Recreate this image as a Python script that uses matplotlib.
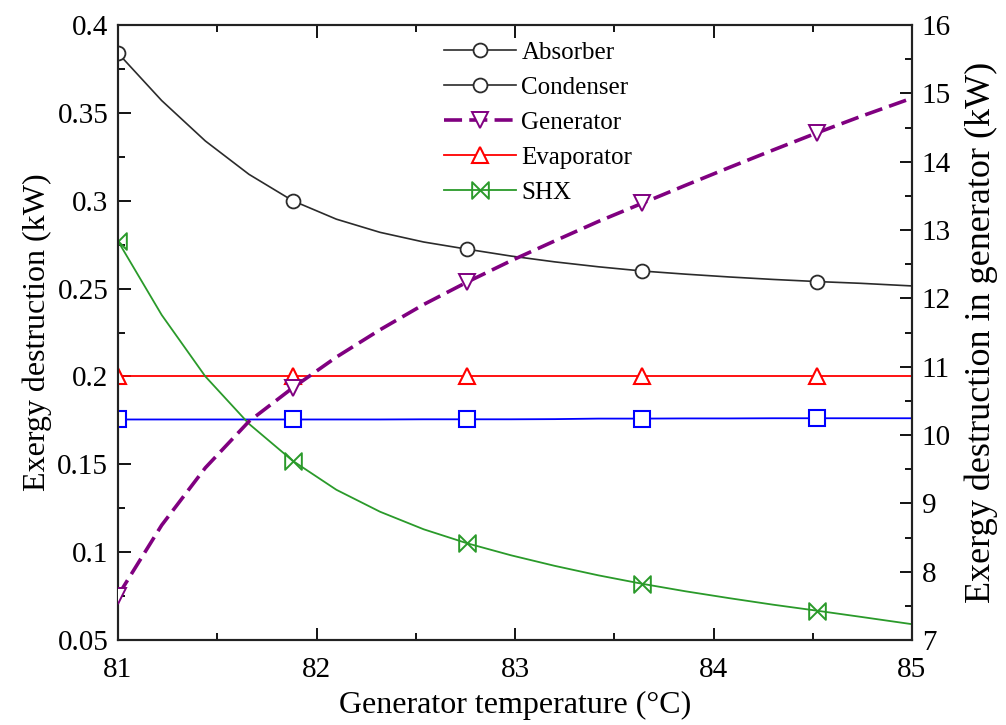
import numpy as np
import matplotlib
matplotlib.use("Agg")
import matplotlib.pyplot as plt
from matplotlib.path import Path
from matplotlib.ticker import MultipleLocator

plt.rcParams["font.family"] = ["Liberation Serif", "DejaVu Serif"]

# generator temperature (°C)
t_gen = [81.0, 81.22, 81.44, 81.66, 81.88, 82.10, 82.32, 82.54, 82.76, 82.98,
         83.20, 83.42, 83.64, 83.86, 84.08, 84.30, 84.52, 84.74, 85.0]

# exergy destruction (kW), left axis
condenser = [0.384, 0.357, 0.334, 0.315, 0.300, 0.2895, 0.282, 0.2765, 0.2724, 0.2685,
             0.2652, 0.2624, 0.2600, 0.2582, 0.2566, 0.2552, 0.2540, 0.2530, 0.2515]
absorber = [0.1755, 0.1755, 0.1755, 0.1755, 0.1755, 0.1755, 0.1755, 0.1756, 0.1756, 0.1756,
            0.1757, 0.1760, 0.1760, 0.1761, 0.1761, 0.1762, 0.1762, 0.1762, 0.1762]
evaporator = [0.200] * len(t_gen)
shx = [0.277, 0.235, 0.200, 0.173, 0.152, 0.1355, 0.123, 0.113, 0.105, 0.0982,
       0.0922, 0.0868, 0.082, 0.0777, 0.0738, 0.0701, 0.0667, 0.0632, 0.0590]

# exergy destruction in generator (kW), right axis
generator = [7.65, 8.68, 9.52, 10.20, 10.69, 11.14, 11.54, 11.91, 12.24, 12.55,
             12.84, 13.125, 13.39, 13.655, 13.915, 14.17, 14.42, 14.66, 14.93]

marks = [0, 4, 8, 12, 16]

bowtie = Path([(-1, -1), (-1, 1), (1, -1), (1, 1), (-1, -1)],
              [Path.MOVETO, Path.LINETO, Path.LINETO, Path.LINETO, Path.CLOSEPOLY])

fig = plt.figure(figsize=(10.06, 7.25), dpi=100)
ax = fig.add_axes([118 / 1006, 1 - 640 / 725, (912 - 118) / 1006, (640 - 25) / 725])
ax2 = ax.twinx()

black = "#2b2b2b"
purple = "#800080"
green = "#2a9a2a"
dash = (0, (5, 2))

ax.plot(t_gen, absorber, color="#0000ff", lw=1.3, marker="s", ms=12, mfc="white",
        mec="#0000ff", mew=1.5, markevery=marks, zorder=3)
ax.plot(t_gen, evaporator, color="#ff0000", lw=1.3, marker="^", ms=11, mfc="white",
        mec="#ff0000", mew=1.5, markevery=marks, zorder=3)
ax.plot(t_gen, condenser, color=black, lw=1.2, marker="o", ms=10, mfc="white",
        mec=black, mew=1.3, markevery=marks, zorder=3)
ax.plot(t_gen, shx, color=green, lw=1.3, marker=bowtie, ms=12, mfc="none",
        mec=green, mew=1.4, markevery=marks, zorder=3)
ax2.plot(t_gen, generator, color=purple, lw=2.6, ls=dash, marker="v",
         ms=11, mfc="white", mec=purple, mew=1.4, markevery=marks, zorder=3)

ax.set_xlim(81, 85)
ax.set_ylim(0.05, 0.4)
ax2.set_ylim(7, 16)

ax.xaxis.set_major_locator(MultipleLocator(1))
ax.xaxis.set_minor_locator(MultipleLocator(0.5))
ax.yaxis.set_minor_locator(MultipleLocator(0.025))
ax2.yaxis.set_major_locator(MultipleLocator(1))
ax2.yaxis.set_minor_locator(MultipleLocator(0.5))
ax.set_yticks([0.05, 0.1, 0.15, 0.2, 0.25, 0.3, 0.35, 0.4])
ax.set_yticklabels(["0.05", "0.1", "0.15", "0.2", "0.25", "0.3", "0.35", "0.4"])

ax.tick_params(axis="both", which="both", direction="in", top=True, right=False,
               labelsize=21, pad=7)
ax.tick_params(axis="x", which="both", pad=12)
ax.tick_params(which="major", length=9, width=1.3)
ax.tick_params(which="minor", length=5, width=1.3)
ax2.tick_params(axis="y", which="both", direction="in", labelsize=21, pad=7)
ax2.tick_params(which="major", length=9, width=1.3)
ax2.tick_params(which="minor", length=5, width=1.3)

for a in (ax, ax2):
    for s in a.spines.values():
        s.set_linewidth(1.5)
        s.set_color("#222222")

ax.set_xlabel("Generator temperature (°C)", fontsize=23, labelpad=6)
ax.set_ylabel("Exergy destruction (kW)", fontsize=23, labelpad=4)
ax2.set_ylabel("Exergy destruction in generator (kW)", fontsize=26, labelpad=10)

# legend (blue line is not listed in the original)
h = [
    plt.Line2D([], [], color=black, lw=1.2, marker="o", ms=10, mfc="white", mec=black, mew=1.3),
    plt.Line2D([], [], color=black, lw=1.2, marker="o", ms=10, mfc="white", mec=black, mew=1.3),
    plt.Line2D([], [], color=purple, lw=2.6, ls=dash, marker="v", ms=11,
               mfc="white", mec=purple, mew=1.4),
    plt.Line2D([], [], color="#ff0000", lw=1.3, marker="^", ms=11, mfc="white",
               mec="#ff0000", mew=1.5),
    plt.Line2D([], [], color=green, lw=1.3, marker=bowtie, ms=12, mfc="none", mec=green, mew=1.4),
]
labels = ["Absorber", "Condenser", "Generator", "Evaporator", "SHX"]
ax.legend(h, labels, loc="upper left", bbox_to_anchor=(0.382, 1.01), frameon=False,
          fontsize=18, handlelength=2.9, handletextpad=0.2, labelspacing=0.5)

fig.savefig("out.png", dpi=100)
